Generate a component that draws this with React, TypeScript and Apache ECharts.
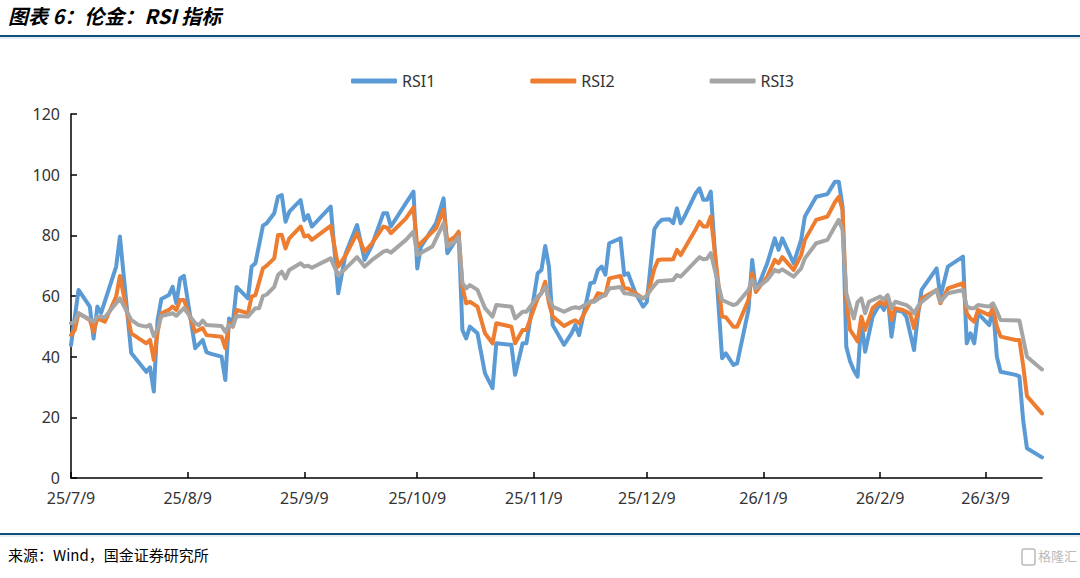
import React, { useEffect, useRef } from "react";
import * as echarts from "echarts";

// Day offsets are counted from 2025-07-09 (first category); value = RSI reading.
const START_DATE = { y: 2025, m: 7, d: 9 };
const DAY_COUNT = 259; // 2025-07-09 .. 2026-03-24

const SERIES_NAMES = ["RSI1", "RSI2", "RSI3"];
const SERIES_COLORS = ["#5B9BD5", "#ED7D31", "#A5A5A5"];
const Y_TICKS = [0, 20, 40, 60, 80, 100, 120];

const RSI1: [number, number][] = [
  [0, 43.8], [2, 62], [5, 56.5], [6, 46], [7, 56.5], [8, 54.4], [12, 69.7], [13, 79.6], [16, 41.2],
  [20, 35], [21, 36.5], [22, 28.5], [23, 52], [24, 59], [26, 60.3], [27, 63], [28, 57.6], [29, 65.8],
  [30, 66.6], [33, 42.8], [35, 45.5], [36, 41.5], [37, 41], [40, 40], [41, 32.3], [42, 52.6], [43, 51],
  [44, 63], [47, 59.2], [48, 69.7], [49, 70.8], [51, 83.2], [52, 84], [54, 87.3], [55, 92.7], [56, 93.3],
  [57, 84.5], [58, 87.8], [61, 91.6], [62, 85], [63, 86.7], [64, 82.9], [69, 89.5], [71, 60.9], [73, 74.1],
  [76, 83.4], [78, 71.9], [80, 76.8], [83, 87.3], [84, 87.3], [85, 82.9], [89, 90.6], [91, 94.4], [92, 69.1],
  [93, 76.3], [97, 84], [99, 92.2], [100, 74.1], [102, 77.9], [103, 80.7], [104, 48.8], [105, 46], [106, 49.9],
  [108, 47.7], [110, 34.5], [112, 29.6], [113, 44.4], [117, 43.9], [118, 34], [120, 44.4], [121, 44.4],
  [124, 67.5], [125, 68.6], [126, 76.5], [127, 69.7], [128, 50.4], [131, 43.9], [133, 47.7], [134, 50.4],
  [135, 47.1], [138, 64.2], [139, 64.5], [140, 68.6], [141, 69.7], [142, 67], [143, 77.4], [146, 79],
  [147, 66.9], [148, 67.5], [150, 60.9], [152, 56.5], [153, 58], [154, 70], [155, 82], [156, 84], [157, 85.1],
  [159, 85.3], [160, 84], [161, 88.9], [162, 84], [163, 86.2], [166, 93.9], [167, 95.5], [168, 91.7],
  [169, 91.7], [170, 94.4], [173, 39.5], [174, 41.1], [176, 37.3], [177, 37.8], [180, 55.4], [181, 71.9],
  [182, 61.4], [185, 70.8], [187, 79], [188, 75.2], [189, 79], [192, 70.8], [194, 78.5], [195, 86.2],
  [198, 92.7], [201, 93.6], [203, 97.7], [204, 97.7], [205, 89.5], [206, 43.3], [207, 38.5], [208, 35.5],
  [209, 33.4], [210, 52.1], [211, 41.6], [213, 53.2], [215, 57.6], [216, 55.4], [217, 59.8], [218, 46.6],
  [219, 55.4], [221, 54.8], [222, 53], [224, 42.2], [225, 53.2], [226, 62], [230, 69.1], [231, 59.8],
  [233, 69.7], [237, 73], [238, 44.4], [239, 47.7], [240, 44.4], [241, 54.3], [244, 50.4], [245, 56.5],
  [246, 40], [247, 35], [251, 34], [252, 33.5], [253, 19], [254, 9.8], [258, 6.8],
];

const RSI2: [number, number][] = [
  [0, 47.1], [1, 48.8], [2, 54.3], [5, 52.1], [6, 48.2], [7, 52.6], [9, 51.5], [12, 59.8], [13, 66.6],
  [16, 47.7], [20, 44.4], [21, 45.5], [22, 38.9], [23, 48], [24, 54.3], [26, 55.4], [27, 56.5], [28, 55.4],
  [29, 58.7], [30, 58.7], [33, 48.2], [35, 49.4], [36, 47.1], [40, 46.6], [41, 42.8], [42, 51], [43, 49.9],
  [44, 55.4], [47, 54.3], [48, 59.8], [49, 60.3], [51, 69.1], [52, 70], [54, 72.4], [55, 80.1], [56, 80.1],
  [57, 75.7], [58, 79], [61, 82.9], [62, 79.6], [63, 80], [64, 78.5], [69, 83.1], [71, 69.7], [73, 73.5],
  [76, 80.7], [78, 74.6], [80, 77.4], [83, 82.9], [84, 82.5], [85, 80.7], [89, 85.6], [91, 89.2], [92, 76.3],
  [97, 82.3], [99, 88.4], [100, 77.9], [102, 79.5], [103, 81.2], [104, 63], [105, 57.6], [106, 58.1],
  [108, 56.5], [110, 47.7], [112, 44.4], [113, 51], [117, 49.9], [118, 44.4], [120, 48.8], [121, 48.8],
  [124, 59.2], [125, 61], [126, 64.7], [127, 57.6], [128, 53.2], [131, 50.1], [133, 51.5], [134, 52],
  [135, 51], [138, 58.1], [139, 58.5], [140, 60.9], [142, 60.3], [143, 65.8], [146, 66.6], [147, 62.5],
  [148, 62.5], [150, 60.9], [152, 59.2], [153, 60], [154, 64], [155, 69], [156, 71.9], [157, 72], [159, 72],
  [160, 72.1], [161, 75.2], [162, 73.5], [166, 82], [167, 84.5], [168, 82.9], [169, 82.9], [170, 86.2],
  [173, 53.2], [174, 53], [176, 49.9], [177, 49.9], [180, 58.7], [181, 67.5], [182, 61.4], [185, 66.4],
  [187, 71.9], [188, 70.8], [189, 72.8], [192, 68.6], [194, 73.5], [195, 78.5], [198, 85.1], [201, 86.2],
  [203, 91], [204, 92.7], [205, 88.4], [206, 58.7], [207, 48.8], [208, 47], [209, 45], [210, 53.2],
  [211, 48.8], [213, 56], [215, 58.1], [216, 57], [217, 58.7], [218, 52.1], [219, 56], [221, 55.4],
  [222, 54.8], [223, 54], [224, 49.4], [225, 54.8], [226, 59.2], [230, 62], [231, 57.6], [233, 62.5],
  [237, 64.2], [238, 54.3], [239, 52.6], [240, 51.5], [241, 55.4], [244, 53.7], [245, 56], [246, 50],
  [247, 46.6], [251, 45.5], [252, 45.5], [253, 37], [254, 27], [258, 21.3],
];

const RSI3: [number, number][] = [
  [0, 51], [1, 51.5], [2, 54.3], [6, 51.5], [7, 53.2], [9, 53], [13, 59.2], [16, 52.1], [18, 50.4],
  [20, 49.9], [21, 50.5], [22, 46.8], [23, 49], [24, 53.4], [27, 54.3], [28, 53.5], [30, 56], [33, 51],
  [34, 50.4], [35, 51.9], [36, 50.4], [40, 50.1], [41, 48.2], [42, 50.4], [43, 50], [44, 53.4], [47, 53.2],
  [49, 56], [50, 56], [51, 60], [52, 60.5], [54, 63], [55, 66.9], [56, 68], [57, 65.8], [58, 68.6],
  [61, 70.8], [62, 69.7], [63, 70], [64, 69.3], [69, 72.4], [71, 66.9], [73, 69.1], [76, 72.8], [78, 69.7],
  [80, 71.9], [83, 74.6], [84, 75], [85, 74.3], [89, 78.5], [91, 81.2], [92, 73.5], [96, 76.3], [99, 84],
  [100, 76.3], [102, 77.9], [103, 79.6], [104, 64.2], [105, 62.5], [106, 63.6], [108, 62], [110, 56],
  [112, 53.2], [113, 57], [117, 56.5], [118, 52.6], [120, 54.8], [121, 54.8], [124, 59.8], [125, 60.9],
  [126, 63], [127, 59.2], [128, 56.5], [131, 54.8], [133, 56], [134, 56.3], [135, 56], [138, 58.1],
  [139, 58.1], [140, 59], [141, 59.8], [142, 60.3], [143, 62.5], [146, 63], [147, 60.9], [148, 60.8],
  [150, 60.3], [152, 59.2], [153, 60], [154, 62], [155, 63.5], [156, 64.9], [160, 65.3], [161, 66.9],
  [162, 66.4], [167, 72.8], [168, 72.1], [169, 72.3], [170, 74.1], [173, 58.7], [174, 58.1], [176, 57],
  [177, 57.5], [180, 62], [181, 65.3], [182, 62.5], [185, 65.3], [187, 68.6], [188, 68], [189, 68.8],
  [192, 66.4], [194, 69.1], [195, 72.4], [198, 77.4], [201, 78.5], [203, 83], [204, 85.1], [205, 81.8],
  [206, 60.9], [207, 56.5], [208, 52.6], [209, 58], [210, 59.2], [211, 54.3], [212, 58.1], [215, 59.8],
  [216, 58.8], [217, 60.3], [218, 56], [219, 58.1], [222, 57], [223, 56], [224, 54.3], [225, 56.5],
  [226, 58], [230, 62], [231, 58.1], [233, 60.9], [237, 62], [238, 56.5], [239, 56], [240, 56], [241, 57],
  [244, 56.5], [245, 57.6], [246, 55], [247, 52.1], [252, 51.9], [254, 40], [258, 35.8],
];

const SERIES_DATA = [RSI1, RSI2, RSI3];

const TITLE = "图表 6：伦金：RSI 指标";
const SOURCE = "来源：Wind，国金证券研究所";
const WATERMARK = "格隆汇";

function buildCategories(): string[] {
  const out: string[] = [];
  for (let i = 0; i < DAY_COUNT; i++) {
    const dt = new Date(Date.UTC(START_DATE.y, START_DATE.m - 1, START_DATE.d + i));
    out.push(`${dt.getUTCFullYear() % 100}/${dt.getUTCMonth() + 1}/${dt.getUTCDate()}`);
  }
  return out;
}

const CATEGORIES = buildCategories();
const isMonthTick = (_i: number, v: string) => v.endsWith("/9");

const FONT = "'Noto Sans', 'Open Sans', sans-serif";
const CJK = "'Noto Sans CJK SC', sans-serif";

export default function App() {
  const ref = useRef<HTMLDivElement>(null);
  useEffect(() => {
    if (!ref.current) return;
    const chart = echarts.init(ref.current, null, { renderer: "svg" });
    chart.setOption({
      animation: false,
      backgroundColor: "#ffffff",
      textStyle: { fontFamily: FONT },
      grid: { left: 71, right: 38, top: 114, bottom: 100, containLabel: false },
      legend: {
        left: 346,
        top: 68,
        icon: "roundRect",
        itemWidth: 46,
        itemHeight: 5,
        itemGap: 95,
        data: SERIES_NAMES,
        textStyle: { fontSize: 16, color: "#333", fontFamily: FONT },
      },
      xAxis: {
        type: "category",
        data: CATEGORIES,
        boundaryGap: false,
        axisLine: { lineStyle: { color: "#000", width: 1.5 } },
        axisTick: { show: true, inside: true, length: 6, interval: isMonthTick, lineStyle: { color: "#000", width: 1.5 } },
        axisLabel: { interval: isMonthTick, color: "#333", fontSize: 16, margin: 12, fontFamily: FONT },
        splitLine: { show: false },
      },
      yAxis: {
        type: "value",
        min: Y_TICKS[0],
        max: Y_TICKS[Y_TICKS.length - 1],
        interval: 20,
        axisLine: { show: true, lineStyle: { color: "#000", width: 1.5 } },
        axisTick: { show: true, inside: true, length: 6, lineStyle: { color: "#000", width: 1.5 } },
        axisLabel: { color: "#333", fontSize: 16, margin: 11, fontFamily: FONT },
        splitLine: { show: false },
      },
      series: SERIES_NAMES.map((name, i) => ({
        name,
        type: "line",
        data: SERIES_DATA[i],
        showSymbol: false,
        symbol: "none",
        color: SERIES_COLORS[i],
        lineStyle: { width: 4, color: SERIES_COLORS[i], cap: "round", join: "round" },
      })),
      graphic: [
        {
          type: "text",
          left: 8,
          top: 5,
          style: { text: TITLE, fontSize: 20, fontWeight: "bold", fontStyle: "italic", fill: "#000", fontFamily: CJK },
        },
        { type: "line", shape: { x1: 0, y1: 36, x2: 1080, y2: 36 }, style: { stroke: "#0e4f7e", lineWidth: 2 } },
        { type: "line", shape: { x1: 0, y1: 38, x2: 1080, y2: 38 }, style: { stroke: "#c9dbe9", lineWidth: 1 } },
        { type: "line", shape: { x1: 0, y1: 534, x2: 1080, y2: 534 }, style: { stroke: "#0e4f7e", lineWidth: 2 } },
        { type: "line", shape: { x1: 0, y1: 536, x2: 1080, y2: 536 }, style: { stroke: "#c9dbe9", lineWidth: 1 } },
        {
          type: "text",
          left: 8,
          top: 547,
          style: { text: SOURCE, fontSize: 15, fill: "#000", fontFamily: CJK },
        },
        {
          type: "rect",
          shape: { x: 1022, y: 549, width: 13, height: 16, r: 2 },
          style: { fill: "none", stroke: "#bbbbbb", lineWidth: 1.5 },
        },
        {
          type: "text",
          left: 1038,
          top: 549,
          style: { text: WATERMARK, fontSize: 13, fill: "#bbbbbb", fontFamily: CJK },
        },
      ],
    });
    return () => chart.dispose();
  }, []);
  return <div ref={ref} style={{ position: "fixed", left: 0, top: 0, width: 1080, height: 578 }} />;
}
